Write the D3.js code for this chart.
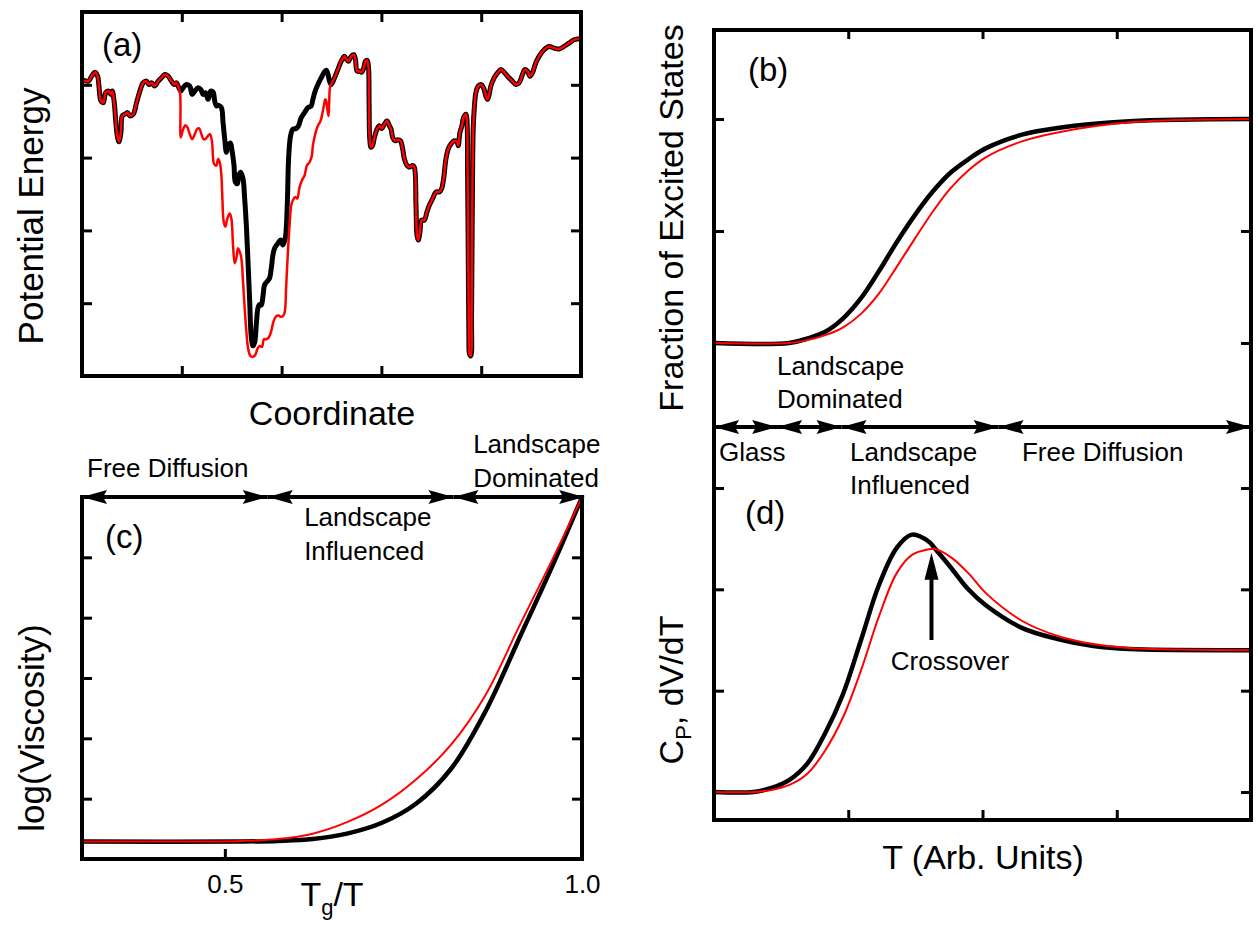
<!DOCTYPE html>
<html>
<head>
<meta charset="utf-8">
<script src="https://cdn.jsdelivr.net/npm/d3@7"></script>
<style>
  body { margin: 0; background: #fff; }
  svg text { font-family: "Liberation Sans", Arial, Helvetica, sans-serif; fill: #000; }
</style>
</head>
<body>
<div id="container"></div>
<script>
/* DATA */
// (a) energy landscape, coordinate 0-1500, energy 0-1100 (arb.)
const landscapeX = [0,19,29,39,47,51,57,64,71,79,87,91,97,101,106,111,117,121,129,137,144,154,164,174,184,194,201,209,219,229,239,249,259,269,277,284,289,297,304,314,324,331,339,349,357,364,371,379,387,394,399,404,411,419,424,429,434,439,446,451,457,461,467,471,477,484,489,494,499,504,509,514,519,524,529,534,539,544,549,557,564,569,574,579,589,597,604,611,617,621,627,634,644,651,659,669,679,689,694,701,709,719,727,734,739,744,749,757,769,779,789,794,801,809,817,822,827,834,841,847,852,857,861,863,865,869,874,879,887,894,901,909,917,924,929,934,941,949,957,964,969,977,984,994,999,1004,1007,1011,1016,1021,1029,1037,1044,1054,1064,1074,1081,1087,1094,1101,1109,1119,1127,1131,1136,1142,1147,1154,1157,1159,1161,1163,1165,1169,1171,1173,1176,1179,1184,1191,1199,1207,1214,1219,1224,1229,1239,1249,1259,1269,1279,1294,1304,1314,1324,1331,1339,1347,1354,1364,1374,1389,1404,1419,1434,1449,1464,1479,1500];
const landscapeBlack = [896,891,906,918,906,876,831,826,856,861,851,861,826,776,726,708,736,786,791,796,786,791,826,861,886,891,881,886,876,891,901,911,906,891,881,886,876,861,871,881,876,851,861,871,866,851,856,836,861,858,831,816,818,811,766,716,676,696,704,681,636,586,581,606,616,596,536,456,346,226,116,91,101,156,206,216,214,241,276,286,296,326,366,386,401,411,396,416,516,656,726,746,748,756,781,796,811,816,836,861,881,901,916,924,914,891,881,896,926,951,966,958,951,966,971,956,921,921,918,931,951,954,936,826,716,691,698,721,746,756,748,761,771,756,746,721,711,714,711,686,656,636,631,636,631,516,426,411,436,471,471,496,516,536,556,556,566,596,656,686,701,711,708,696,736,756,781,791,776,626,376,126,66,61,176,476,746,806,856,876,881,871,846,836,851,876,901,916,926,918,906,891,881,886,911,926,921,906,916,946,966,986,996,991,988,996,1006,1016,1020];
// red trace only leaves the black one inside the big basin
const basinRedX = [295,297,304,311,317,324,331,339,346,352,359,365,371,379,385,391,397,404,409,414,419,422,426,431,437,444,449,454,459,464,469,474,479,484,489,494,499,506,514,521,527,534,541,547,554,561,569,576,584,591,597,604,609,614,619,624,629,634,641,647,654,661,669,676,684,691,694,701,709,717,721,727,731,734,737,741,743,746];
const basinRed = [851,721,746,758,751,731,716,731,746,748,731,716,716,726,731,706,641,636,656,646,606,536,466,451,476,491,476,396,341,356,386,376,356,286,206,136,86,61,58,64,81,91,88,111,111,116,136,166,181,183,179,181,191,276,376,456,516,531,541,536,571,591,606,636,646,666,696,731,756,771,786,816,836,831,811,786,826,876];

// (b) fraction of excited states vs T
const bT = [0, 0.56, 0.695, 0.829, 0.962, 1.095, 1.228, 1.361, 1.495, 1.628, 1.761, 1.894, 2.027, 2.293, 2.56, 3.093, 4.0];
const bBlack = [0, 0, 0.02, 0.05, 0.11, 0.20, 0.32, 0.45, 0.57, 0.675, 0.76, 0.82, 0.87, 0.93, 0.96, 0.99, 1.0];
const bRed = [0, 0, 0.013, 0.035, 0.07, 0.13, 0.22, 0.34, 0.465, 0.585, 0.69, 0.77, 0.83, 0.90, 0.94, 0.985, 1.0];

// (d) Cp, dV/dT vs T
const dT = [0, 0.295, 0.428, 0.562, 0.695, 0.828, 0.962, 1.095, 1.228, 1.361, 1.475, 1.601, 1.641, 1.761, 1.894, 2.027, 2.293, 2.56, 2.826, 3.093, 4.0];
const dBlack = [0, 0, 0.04, 0.12, 0.28, 0.58, 0.97, 1.50, 2.04, 2.41, 2.54, 2.47, 2.41, 2.22, 2.00, 1.84, 1.62, 1.51, 1.44, 1.41, 1.40];
const dRed = [0, 0, 0.02, 0.07, 0.18, 0.41, 0.74, 1.20, 1.73, 2.16, 2.34, 2.395, 2.40, 2.32, 2.16, 1.96, 1.69, 1.54, 1.46, 1.42, 1.40];
const crossover = { t: 1.62, from: 1.5, to: 2.36 };

// (c) log(viscosity) vs Tg/T
const cX = [0.3, 0.525, 0.574, 0.623, 0.671, 0.720, 0.768, 0.817, 0.865, 0.913, 0.962, 1.0];
const cBlack = [0.29, 0.29, 0.30, 0.33, 0.42, 0.60, 0.92, 1.50, 2.45, 3.68, 4.95, 6.0];
const cRed = [0.29, 0.30, 0.33, 0.42, 0.61, 0.90, 1.32, 1.90, 2.72, 3.88, 5.05, 6.0];
const cTickValues = [0.5, 1.0];
const cTickLabels = ["0.5", "1.0"];

// regime arrows
const cBounds = [0.3, 0.56, 0.82, 1.003];
const cRegionLabels = [["Free Diffusion"], ["Landscape", "Influenced"], ["Landscape", "Dominated"]];
const bdBounds = [0, 0.47, 0.95, 2.12, 4.0];
const bdRegionLabels = [["Glass"], ["Landscape", "Dominated"], ["Landscape", "Influenced"], ["Free Diffusion"]];

/* SETUP */
const svg = d3.select("#container").append("svg")
  .attr("width", 1258)
  .attr("height", 926);

const TITLE = 34, NOTE = 26;
const smooth = d3.curveCatmullRom.alpha(0.5);

function frame(lines) {
  lines.forEach(([x1, y1, x2, y2]) => {
    svg.append("line")
      .attr("x1", x1).attr("y1", y1).attr("x2", x2).attr("y2", y2)
      .attr("stroke", "#000").attr("stroke-width", 4)
      .attr("stroke-linecap", "square");
  });
}

function ticks(axis, tx, ty, len) {
  const g = svg.append("g")
    .attr("transform", `translate(${tx},${ty})`)
    .call(axis.tickSize(-len).tickFormat(""));
  g.select(".domain").remove();
  g.selectAll(".tick line").attr("stroke", "#000").attr("stroke-width", 3);
  return g;
}

function doubleArrow(x1, x2, y) {
  const L = 25, H = 7;
  svg.append("line")
    .attr("x1", x1).attr("x2", x2).attr("y1", y).attr("y2", y)
    .attr("stroke", "#000").attr("stroke-width", 4);
  svg.append("path").attr("d", `M${x1},${y}L${x1 + L},${y - H}L${x1 + L - 4},${y}L${x1 + L},${y + H}Z`);
  svg.append("path").attr("d", `M${x2},${y}L${x2 - L},${y - H}L${x2 - L + 4},${y}L${x2 - L},${y + H}Z`);
}

function drawCurve(xs, ys, x, y, color, w, curve) {
  const pts = xs.map((v, i) => [v, ys[i]]);
  svg.append("path")
    .datum(pts)
    .attr("fill", "none")
    .attr("stroke", color)
    .attr("stroke-width", w)
    .attr("stroke-linejoin", "round")
    .attr("d", d3.line().x(d => x(d[0])).y(d => y(d[1])).curve(curve));
}

function multiline(x, baselines, lines, size) {
  lines.forEach((t, i) => {
    svg.append("text")
      .attr("x", x).attr("y", baselines[i])
      .style("font-size", size + "px")
      .text(t);
  });
}

/* PANEL (a) */
const ax = d3.scaleLinear().domain([0, 1500]).range([82, 581]);
const ay = d3.scaleLinear().domain([0, 1100]).range([376, 12]);

ticks(d3.axisBottom(ax).tickValues([300, 600, 900, 1200]), 0, 376, 10);
ticks(d3.axisTop(ax).tickValues([300, 600, 900, 1200]), 0, 12, 10);
ticks(d3.axisLeft(ay).tickValues([220, 440, 660, 880]), 82, 0, 10);
ticks(d3.axisRight(ay).tickValues([220, 440, 660, 880]), 581, 0, 10);

const redX = [], redY = [];
landscapeX.forEach((v, i) => { if (v <= 289) { redX.push(v); redY.push(landscapeBlack[i]); } });
basinRedX.forEach((v, i) => { redX.push(v); redY.push(basinRed[i]); });
landscapeX.forEach((v, i) => { if (v >= 749) { redX.push(v); redY.push(landscapeBlack[i]); } });

drawCurve(landscapeX, landscapeBlack, ax, ay, "#000", 5, smooth);
drawCurve(redX, redY, ax, ay, "#ff0000", 2.5, smooth);
frame([[82, 12, 581, 12], [82, 376, 581, 376], [82, 12, 82, 376], [581, 12, 581, 376]]);

svg.append("text").attr("x", 102).attr("y", 56).style("font-size", "33px").text("(a)");
svg.append("text").attr("x", 332).attr("y", 425).attr("text-anchor", "middle")
  .style("font-size", TITLE + "px").text("Coordinate");
svg.append("text").attr("transform", "translate(43,216) rotate(-90)").attr("text-anchor", "middle")
  .style("font-size", "35px").text("Potential Energy");

/* PANELS (b) AND (d) */
const tx = d3.scaleLinear().domain([0, 4]).range([714, 1251]);
const by = d3.scaleLinear().domain([0, 1]).range([343, 119]);
const dy = d3.scaleLinear().domain([0, 3]).range([792, 488]);

ticks(d3.axisTop(tx).tickValues([1, 2, 3]), 0, 30, 9);
ticks(d3.axisLeft(by).tickValues([0, 0.5, 1]), 714, 0, 10);
ticks(d3.axisRight(by).tickValues([0, 0.5, 1]), 1251, 0, 10);
ticks(d3.axisBottom(tx).tickValues([1, 2, 3]), 0, 820, 10);
ticks(d3.axisLeft(dy).tickValues([0, 1, 2, 3]), 714, 0, 10);
ticks(d3.axisRight(dy).tickValues([0, 1, 2, 3]), 1251, 0, 10);

drawCurve(bT, bBlack, tx, by, "#000", 4.5, smooth);
drawCurve(bT, bRed, tx, by, "#ff0000", 2, smooth);
drawCurve(dT, dBlack, tx, dy, "#000", 4.5, smooth);
drawCurve(dT, dRed, tx, dy, "#ff0000", 2, smooth);

frame([[714, 30, 1251, 30], [714, 820, 1251, 820], [714, 30, 714, 820], [1251, 30, 1251, 820]]);
for (let i = 0; i < bdBounds.length - 1; i++) doubleArrow(tx(bdBounds[i]), tx(bdBounds[i + 1]), 427);

multiline(tx(0.037), [461], bdRegionLabels[0], NOTE);
multiline(tx(0.469), [375, 408], bdRegionLabels[1], NOTE);
multiline(tx(1.013), [461, 494], bdRegionLabels[2], NOTE);
multiline(tx(2.294), [461], bdRegionLabels[3], NOTE);

// crossover arrow
const cxp = tx(crossover.t);
svg.append("line").attr("x1", cxp).attr("x2", cxp)
  .attr("y1", dy(crossover.from)).attr("y2", dy(crossover.to) + 20)
  .attr("stroke", "#000").attr("stroke-width", 4);
svg.append("path")
  .attr("d", `M${cxp},${dy(crossover.to)}L${cxp - 7},${dy(crossover.to) + 27}L${cxp + 7},${dy(crossover.to) + 27}Z`);
svg.append("text").attr("x", 950).attr("y", 670).attr("text-anchor", "middle")
  .style("font-size", NOTE + "px").text("Crossover");

svg.append("text").attr("x", 748).attr("y", 81).style("font-size", "33px").text("(b)");
svg.append("text").attr("x", 745).attr("y", 524).style("font-size", "33px").text("(d)");
svg.append("text").attr("x", 983).attr("y", 869).attr("text-anchor", "middle")
  .style("font-size", TITLE + "px").text("T (Arb. Units)");
svg.append("text").attr("transform", "translate(683,218) rotate(-90)").attr("text-anchor", "middle")
  .style("font-size", TITLE + "px").text("Fraction of Excited States");
const cpLabel = svg.append("text").attr("transform", "translate(683,690) rotate(-90)")
  .attr("text-anchor", "middle").style("font-size", TITLE + "px");
cpLabel.append("tspan").text("C");
cpLabel.append("tspan").attr("dy", 8).style("font-size", "22px").text("P");
cpLabel.append("tspan").attr("dy", -8).text(", dV/dT");

/* PANEL (c) */
const cx = d3.scaleLinear().domain([0.3, 1.0]).range([82, 582]);
const cy = d3.scaleLinear().domain([0, 6]).range([859, 497]);

ticks(d3.axisLeft(cy).tickValues([1, 2, 3, 4, 5]), 82, 0, 10);
ticks(d3.axisRight(cy).tickValues([1, 2, 3, 4, 5]), 582, 0, 10);
const cBottom = svg.append("g")
  .attr("transform", "translate(0,859)")
  .call(d3.axisBottom(cx).tickValues(cTickValues).tickSize(-10).tickPadding(16)
    .tickFormat((d, i) => cTickLabels[i]));
cBottom.select(".domain").remove();
cBottom.selectAll(".tick line").attr("stroke", "#000").attr("stroke-width", 3);
cBottom.selectAll(".tick text").style("font-size", NOTE + "px")
  .style("font-family", "'Liberation Sans', Arial, sans-serif").attr("fill", "#000");

drawCurve(cX, cBlack, cx, cy, "#000", 4.5, smooth);
drawCurve(cX, cRed, cx, cy, "#ff0000", 2, smooth);

frame([[82, 859, 582, 859], [82, 497, 82, 859], [582, 497, 582, 859]]);
for (let i = 0; i < cBounds.length - 1; i++) doubleArrow(cx(cBounds[i]), cx(cBounds[i + 1]), 497);

multiline(cx(0.307), [477], cRegionLabels[0], NOTE);
multiline(cx(0.611), [526, 560], cRegionLabels[1], NOTE);
multiline(cx(0.8476), [453, 487], cRegionLabels[2], NOTE);

svg.append("text").attr("x", 105).attr("y", 548).style("font-size", "33px").text("(c)");
const tgLabel = svg.append("text").attr("x", 332).attr("y", 906)
  .attr("text-anchor", "middle").style("font-size", TITLE + "px");
tgLabel.append("tspan").text("T");
tgLabel.append("tspan").attr("dy", 9).style("font-size", "22px").text("g");
tgLabel.append("tspan").attr("dy", -9).text("/T");
svg.append("text").attr("transform", "translate(44,728) rotate(-90)").attr("text-anchor", "middle")
  .style("font-size", "35px").text("log(Viscosity)");
</script>
</body>
</html>
